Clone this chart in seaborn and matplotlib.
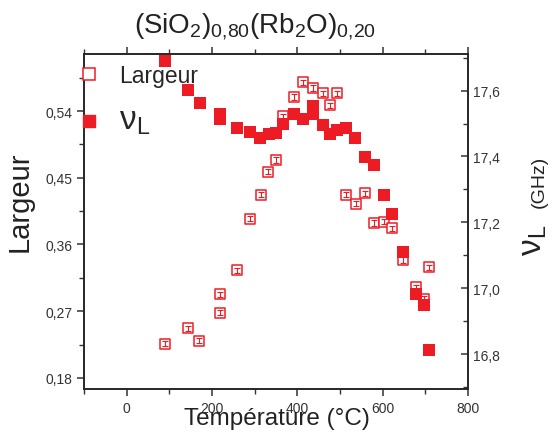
import matplotlib
matplotlib.use('Agg')
import matplotlib.pyplot as plt
from matplotlib.ticker import MultipleLocator, FuncFormatter
from matplotlib.lines import Line2D
import pandas as pd
import seaborn as sns

# --- données ---
temp_nu = [90, 143.5, 171, 219.5, 219.5, 259, 288.5, 313.6, 333, 349, 367, 392, 414,
           436, 436, 459, 476, 492.5, 513.6, 535.5, 559, 580, 604, 622, 647, 678, 698, 708]
nu_L = [17.69, 17.603, 17.563, 17.53, 17.515, 17.486, 17.474, 17.455, 17.468, 17.47,
        17.499, 17.529, 17.514, 17.554, 17.529, 17.496, 17.468, 17.48, 17.486, 17.455,
        17.398, 17.374, 17.283, 17.225, 17.109, 16.982, 16.949, 16.812]

temp_larg = [90, 143.5, 170, 218, 218, 259, 288.5, 316, 331, 349, 366, 392, 413, 437,
             459, 477, 494, 514, 537, 559, 580, 602, 622, 647, 678, 698, 708]
largeur = [0.226, 0.247, 0.230, 0.293, 0.268, 0.325, 0.395, 0.427, 0.458, 0.474, 0.533,
           0.559, 0.579, 0.571, 0.564, 0.548, 0.564, 0.427, 0.415, 0.429, 0.389, 0.391,
           0.382, 0.339, 0.302, 0.287, 0.329]
err_largeur = [0.0035] * len(largeur)

df_nu = pd.DataFrame({'T': temp_nu, 'nu': nu_L})
df_larg = pd.DataFrame({'T': temp_larg, 'L': largeur, 'err': err_largeur})

rouge = '#ED1C24'

sns.set_style('ticks')
plt.rcParams['font.family'] = ['Liberation Sans', 'DejaVu Sans']
plt.rcParams['mathtext.fontset'] = 'custom'
plt.rcParams['mathtext.rm'] = 'Liberation Sans'
plt.rcParams['axes.linewidth'] = 1.2

fig = plt.figure(figsize=(5.55, 4.39), dpi=100)
ax = fig.add_axes([84 / 555, 49 / 439, 384 / 555, 335 / 439])

# Largeur (axe gauche), carrés vides avec barres d'erreur
sns.scatterplot(data=df_larg, x='T', y='L', ax=ax, marker='s', s=62,
                color='white', edgecolor=rouge, linewidth=1.1, zorder=3)
ax.errorbar(df_larg['T'], df_larg['L'], yerr=df_larg['err'], fmt='none',
            ecolor=rouge, elinewidth=0.8, capsize=2.2, capthick=0.8, zorder=4)

# nu_L (axe droit), carrés pleins
ax2 = ax.twinx()
sns.scatterplot(data=df_nu, x='T', y='nu', ax=ax2, marker='s', s=78,
                color=rouge, linewidth=0, zorder=3)

ax.set_xlim(-100, 800)
ax.set_ylim(0.165, 0.617)
ax2.set_ylim(16.694, 17.711)

ax.xaxis.set_major_locator(MultipleLocator(200))
ax.xaxis.set_minor_locator(MultipleLocator(100))
ax.yaxis.set_major_locator(MultipleLocator(0.09))
ax.yaxis.set_minor_locator(MultipleLocator(0.045))
ax2.yaxis.set_major_locator(MultipleLocator(0.2))
ax2.yaxis.set_minor_locator(MultipleLocator(0.1))

ax.xaxis.set_major_formatter(FuncFormatter(lambda v, p: f'{v:.0f}'))
ax.yaxis.set_major_formatter(FuncFormatter(lambda v, p: f'{v:.2f}'.replace('.', ',')))
ax2.yaxis.set_major_formatter(FuncFormatter(lambda v, p: f'{v:.1f}'.replace('.', ',')))

ax.tick_params(axis='x', which='both', direction='out', top=True, labeltop=False,
               labelsize=10, colors='#333333')
ax.tick_params(axis='y', which='both', direction='out', labelsize=10, colors='#333333')
ax.tick_params(which='major', length=5, width=1.1)
ax.tick_params(which='minor', length=3.5, width=1.0)
ax2.tick_params(axis='y', which='both', direction='in', labelsize=10, colors='#333333')
ax2.tick_params(which='major', length=5, width=1.1)
ax2.tick_params(which='minor', length=3.5, width=1.0)

ax.set_xlabel('')
ax.set_ylabel('')
ax2.set_ylabel('')

# textes
fig.text(255 / 555, 1 - 33 / 439, r'$\mathregular{(SiO_2)_{0{,}80}(Rb_2O)_{0{,}20}}$',
         ha='center', va='baseline', fontsize=20, color='#222222')
fig.text(277 / 555, 1 - 425 / 439, 'Température (°C)', ha='center', va='baseline',
         fontsize=17.5, color='#222222')
fig.text(20 / 555, 1 - 202 / 439, 'Largeur', rotation=90, ha='center', va='center',
         fontsize=21, color='#222222')
fig.text(549 / 555, 1 - 240 / 439, r'$\mathregular{ν_L}$', rotation=90, ha='right',
         va='center', fontsize=24, color='#222222')
fig.text(548 / 555, 1 - 182 / 439, '(GHz)', rotation=90, ha='right', va='center',
         fontsize=14, color='#222222')

# légende
handles = [Line2D([], [], marker='s', ls='none', mfc='white', mec=rouge, mew=1.1, ms=8),
           Line2D([], [], marker='s', ls='none', mfc=rouge, mec=rouge, ms=8.5)]
leg = ax2.legend(handles, ['Largeur', r'$\mathregular{ν_L}$'], loc='upper left',
                 bbox_to_anchor=(-0.022, 0.985), frameon=False, fontsize=16.5,
                 handlelength=0.8, handletextpad=0.9, borderaxespad=0, borderpad=0.2,
                 labelspacing=0.8)
leg.get_texts()[1].set_fontsize(24)

plt.savefig('out.png', dpi=100)
plt.close()
